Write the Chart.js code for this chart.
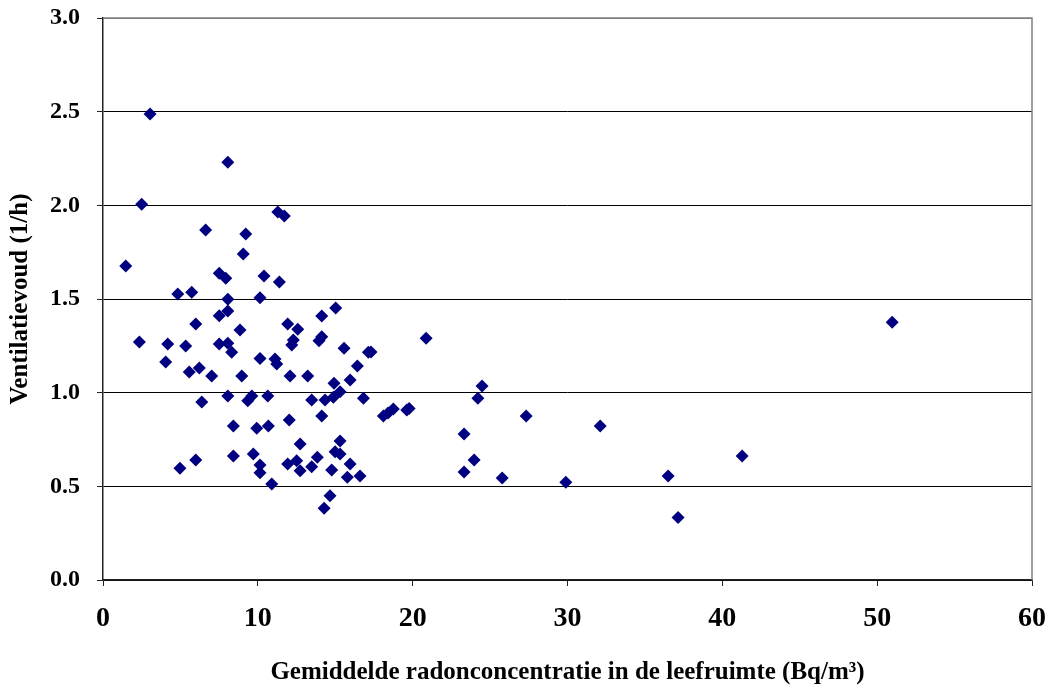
<!DOCTYPE html>
<html>
<head>
<meta charset="utf-8">
<script src="https://cdn.jsdelivr.net/npm/chart.js@4"></script>
<style>
html,body{margin:0;padding:0;background:#fff;}
#wrap{width:1049px;height:688px;}
</style>
</head>
<body>
<div id="wrap"><canvas id="c" width="1049" height="688"></canvas></div>
<script>
const radon = [1.47,3.04,2.50,2.35,4.18,4.05,4.83,5.34,5.73,5.99,5.57,6.22,6.38,7.02,6.63,4.97,5.99,8.06,7.51,7.93,8.06,8.06,7.51,7.51,8.06,8.31,8.85,9.22,9.06,8.96,8.06,8.42,8.42,9.35,9.61,9.93,9.71,10.14,10.14,10.14,10.40,10.14,10.64,10.68,10.90,11.29,11.71,11.39,11.11,11.22,11.93,12.08,12.03,12.19,12.29,12.58,11.93,12.51,12.73,12.73,13.22,13.48,13.48,13.84,14.13,14.13,13.95,14.13,14.28,14.34,14.66,14.77,15.03,14.92,14.88,15.31,14.99,15.31,15.31,15.57,15.96,15.96,15.78,16.43,16.60,16.82,17.14,17.31,18.11,18.41,18.75,19.62,19.77,20.87,23.32,23.32,23.97,24.21,24.48,25.78,27.33,29.89,32.11,36.50,37.14,41.28,50.97];
const ventilatie = [1.676,2.488,2.006,1.270,1.260,1.164,1.527,1.249,1.536,1.367,1.110,1.132,0.950,1.089,1.868,0.596,0.641,2.230,1.637,1.611,1.498,1.436,1.411,1.260,1.264,1.216,1.335,1.847,1.740,1.089,0.982,0.822,0.662,0.957,0.982,0.810,0.673,0.614,0.573,1.507,1.623,1.183,0.982,0.822,0.512,1.964,1.943,1.591,1.180,1.153,1.367,1.089,0.854,1.254,1.281,1.338,0.619,0.637,0.726,0.583,1.089,0.961,0.605,0.655,1.409,0.875,1.277,1.299,0.383,0.961,0.450,0.587,1.452,1.050,0.975,1.005,0.685,0.742,0.673,1.237,1.068,0.619,0.548,1.142,0.555,0.970,1.216,1.217,0.875,0.891,0.913,0.907,0.915,1.290,0.779,0.577,0.641,0.970,1.036,0.545,0.875,0.522,0.822,0.555,0.334,0.662,1.376];
const xTicks = [0,10,20,30,40,50,60];
const yTicks = [0.0,0.5,1.0,1.5,2.0,2.5,3.0];
const xTitle = 'Gemiddelde radonconcentratie in de leefruimte (Bq/m³)';
const yTitle = 'Ventilatievoud (1/h)';

const points = radon.map((x,i)=>({x:x,y:ventilatie[i]}));
const fontFam = '"Liberation Serif","Times New Roman",serif';

const plotFrame = {
  id: 'plotFrame',
  beforeDatasetsDraw(chart) {
    const a = chart.chartArea, ctx = chart.ctx;
    ctx.save();
    ctx.strokeStyle = '#808080';
    ctx.lineWidth = 1.5;
    ctx.beginPath();
    ctx.moveTo(a.left, a.top);
    ctx.lineTo(a.right, a.top);
    ctx.lineTo(a.right, a.bottom);
    ctx.stroke();
    ctx.restore();
  }
};

new Chart(document.getElementById('c'), {
  type: 'scatter',
  data: { datasets: [{
    data: points,
    pointStyle: 'rectRot',
    pointRadius: 6.5,
    pointHoverRadius: 6.5,
    backgroundColor: '#000080',
    borderColor: '#000080',
    borderWidth: 0
  }]},
  options: {
    responsive: false,
    animation: false,
    events: [],
    layout: { padding: { left: 0, right: 17, top: 18, bottom: 0 } },
    plugins: { legend: { display: false }, tooltip: { enabled: false } },
    scales: {
      x: {
        type: 'linear',
        min: 0, max: 60,
        afterBuildTicks: s => { s.ticks = xTicks.map(v=>({value:v})); },
        afterFit: s => { s.height = 108; s.paddingLeft = 0; s.paddingRight = 0; },
        border: { display: true, color: '#222', width: 1.5 },
        grid: { drawOnChartArea: false, drawTicks: true, tickLength: 6, tickColor: '#222' },
        ticks: { color: '#000', padding: 16, maxRotation: 0, font: { family: fontFam, size: 28, weight: 'bold' } },
        title: { display: true, text: xTitle, color: '#000', padding: { top: 0, bottom: 0 }, font: { family: fontFam, size: 25, weight: 'bold' } }
      },
      y: {
        type: 'linear',
        min: 0, max: 3,
        afterBuildTicks: s => { s.ticks = yTicks.map(v=>({value:v})); },
        afterFit: s => { s.width = 103; s.paddingTop = 0; s.paddingBottom = 0; },
        border: { display: true, color: '#222', width: 1.5 },
        grid: { color: ctx => (ctx.tick && ctx.tick.value === 3 ? '#808080' : '#000'), lineWidth: 1, drawTicks: true, tickLength: 6, tickColor: '#222' },
        ticks: { color: '#000', padding: 17, callback: v => v.toFixed(1), font: { family: fontFam, size: 24, weight: 'bold' } },
        title: { display: true, text: yTitle, color: '#000', padding: { top: 6, bottom: 0 }, font: { family: fontFam, size: 25, weight: 'bold' } }
      }
    }
  },
  plugins: [plotFrame]
});
</script>
</body>
</html>
